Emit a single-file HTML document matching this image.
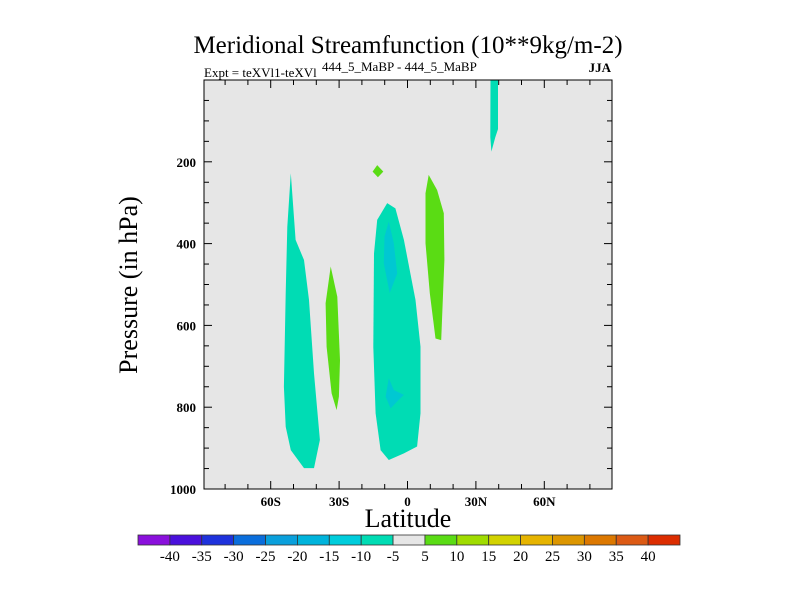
<!DOCTYPE html>
<html><head><meta charset="utf-8"><style>
body{margin:0;background:#fff;}
svg text{font-family:"Liberation Serif",serif;fill:#000;}
</style></head><body>
<svg id="chart" width="800" height="600" xmlns="http://www.w3.org/2000/svg">
<text x="408" y="53" font-size="25" text-anchor="middle">Meridional Streamfunction (10**9kg/m-2)</text>
<text x="204" y="77" font-size="13">Expt = teXVl1-teXVl</text>
<text x="322" y="71" font-size="13">444_5_MaBP - 444_5_MaBP</text>
<text x="611" y="72" font-size="13" font-weight="bold" text-anchor="end">JJA</text>
<rect x="204" y="80" width="408" height="409" fill="#e6e6e6"/>
<g id="fills"></g>
<rect x="204" y="80" width="408" height="409" fill="none" stroke="#000" stroke-width="1"/>
<g id="axes"></g>
<text transform="translate(137,285) rotate(-90)" font-size="26" text-anchor="middle">Pressure (in hPa)</text>
<text x="408" y="527" font-size="26" text-anchor="middle">Latitude</text>
<g id="colorbar"></g>
</svg>
<script>
const colorLevels = ["-40","-35","-30","-25","-20","-15","-10","-5","5","10","15","20","25","30","35","40"];
const colorBoxes = ["#8a10dc","#4a10dc","#1e32dc","#0a6edc","#0aa0dc","#00b4dc","#00cddc","#00dcb4","#e6e6e6","#5adc14","#a0dc00","#d2d200","#e6b400","#dc9600","#dc7800","#dc5a14","#dc2d00"];
const xTicks = [-60,-30,0,30,60];
const xTickLabels = ["60S","30S","0","30N","60N"];
const yTicks = [200,400,600,800,1000];
const blobTeal1 = [[-51.2,228],[-49.1,391],[-45.4,440],[-43.2,538],[-41.0,717],[-38.4,880],[-41,949],[-45.4,949],[-51.2,905],[-53.4,848],[-54.2,750],[-53.4,521],[-52.7,359]];
const blobTeal2 = [[-8.9,301],[-5.3,314],[-1.6,391],[3.5,538],[5.7,652],[5.7,815],[4.2,896],[-1.6,913],[-8.2,929],[-11.8,905],[-14.0,815],[-15.0,652],[-14.7,424],[-13.3,342]];
const blobTeal3 = [[36.4,0],[39.7,0],[39.7,120],[38.5,140],[36.8,175],[36.3,140]];
const blobCyan1 = [[-8.2,346],[-6,399],[-4.5,473],[-7.8,521],[-10.4,448],[-10.1,383]];
const blobCyan2 = [[-8.2,729],[-6,758],[-1.6,770],[-3.8,782],[-7.4,803],[-9.6,774]];
const blobGreen1 = [[-33.7,456],[-30.8,530],[-29.6,685],[-30.1,774],[-31.1,807],[-33.3,766],[-35.5,652],[-35.9,546]];
const blobGreen2 = [[-13.3,208],[-10.6,224],[-13,238],[-15.3,224]];
const blobGreen3 = [[9.3,232],[13,269],[15.9,326],[16.2,440],[14.8,636],[12.3,632],[9.8,521],[7.9,399],[7.9,277]];

const NS="http://www.w3.org/2000/svg";
const X = lat => 407.5 + lat*2.28;
const Y = p => 80 + p*0.409;
function mk(tag, attrs, parent){const e=document.createElementNS(NS,tag);for(const k in attrs)e.setAttribute(k,attrs[k]);parent.appendChild(e);return e;}
const fills=document.getElementById('fills');
[[blobTeal1,"#00dcb4","teal-region-south"],[blobTeal2,"#00dcb4","teal-region-equator"],[blobTeal3,"#00dcb4","teal-region-north"],
 [blobCyan1,"#00c8d2","cyan-core-upper"],[blobCyan2,"#00c8d2","cyan-core-lower"],
 [blobGreen1,"#5adc14","green-region-30s"],[blobGreen2,"#5adc14","green-region-small"],[blobGreen3,"#5adc14","green-region-10n"]].forEach(([pts,c,n])=>{
  const e=mk('polygon',{points:pts.map(q=>X(q[0]).toFixed(1)+","+Y(q[1]).toFixed(1)).join(" "),fill:c},fills);
  
  
});
const axes=document.getElementById('axes');
for(let lat=-80;lat<=80;lat+=10){
  const big=lat%30===0, x=X(lat);
  mk('line',{x1:x,x2:x,y1:489,y2:489-(big?8:5),stroke:"#000"},axes);
  mk('line',{x1:x,x2:x,y1:80,y2:80+(big?8:5),stroke:"#000"},axes);
}
xTicks.forEach((v,i)=>{const t=mk('text',{x:X(v),y:506,'font-size':13,'text-anchor':'middle','font-weight':'bold'},axes);t.textContent=xTickLabels[i];
  
  });
for(let p=50;p<1000;p+=50){
  const big=p%200===0, y=Y(p);
  mk('line',{x1:204,x2:204+(big?8:5),y1:y,y2:y,stroke:"#000"},axes);
  mk('line',{x1:612,x2:612-(big?8:5),y1:y,y2:y,stroke:"#000"},axes);
}
yTicks.forEach(v=>{const t=mk('text',{x:196,y:Y(v)+5,'font-size':13,'text-anchor':'end','font-weight':'bold'},axes);t.textContent=v;
  
  });
const cb=document.getElementById('colorbar');
const cx0=138, cx1=680, bw=(cx1-cx0)/colorBoxes.length;
colorBoxes.forEach((c,i)=>{const r=mk('rect',{x:cx0+i*bw,y:535,width:bw,height:10,fill:c,stroke:"#333",'stroke-width':0.8},cb);
  
  });
colorLevels.forEach((l,i)=>{const t=mk('text',{x:cx0+(i+1)*bw,y:561,'font-size':15,'text-anchor':'middle'},cb);t.textContent=l;
  
  });
</script>
</body></html>
